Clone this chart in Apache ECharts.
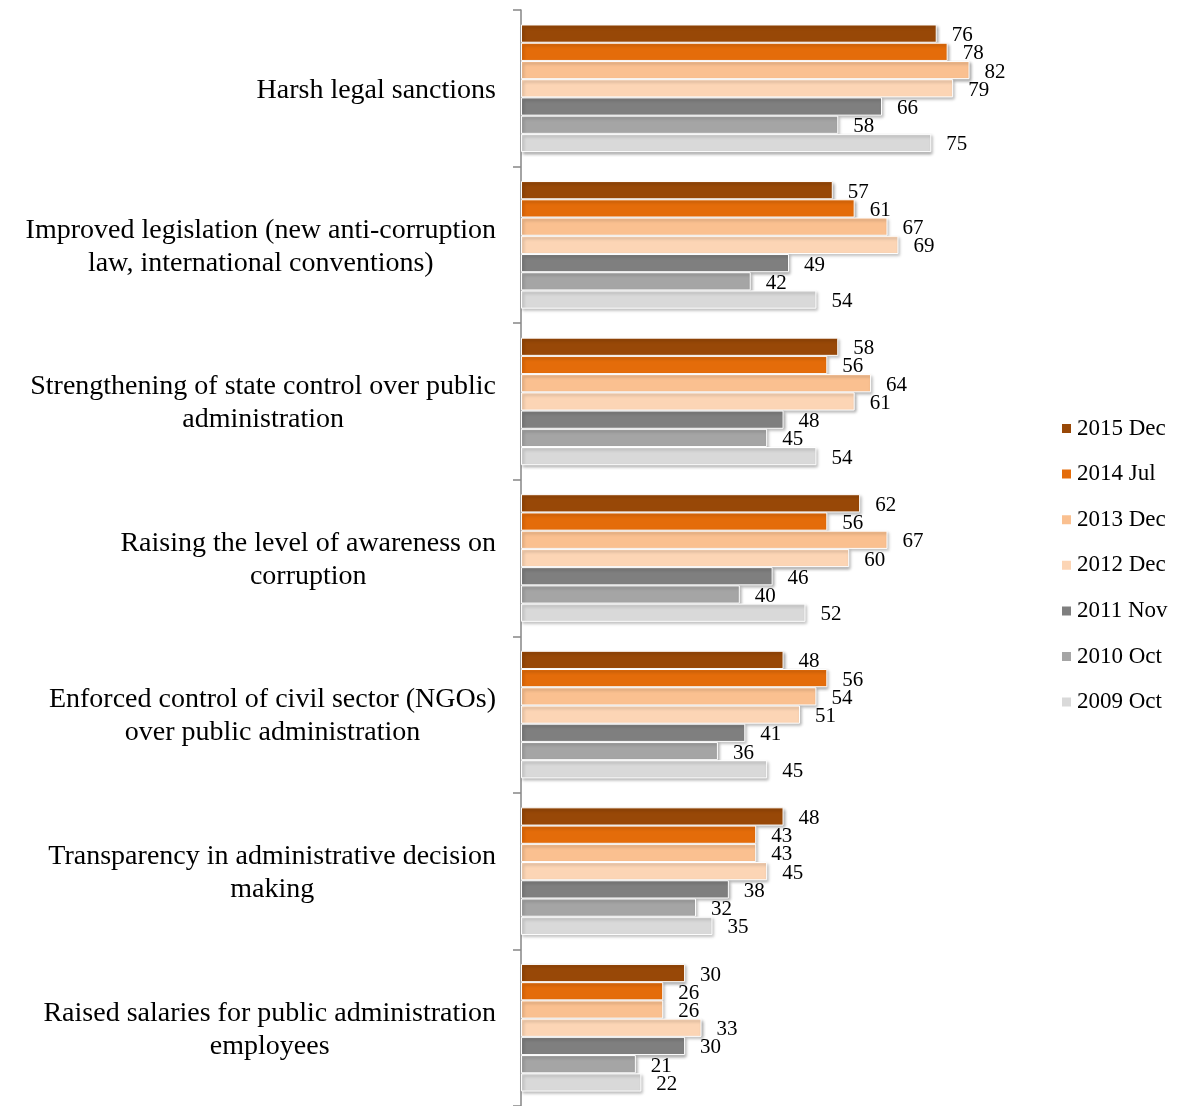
<!DOCTYPE html>
<html>
<head>
<meta charset="utf-8">
<style>
  html, body { margin: 0; padding: 0; background: #ffffff; }
  #chart { width: 1181px; height: 1106px; }
</style>
<script src="https://cdn.jsdelivr.net/npm/echarts@6/dist/echarts.min.js"></script>
</head>
<body>
<div id="chart"></div>
<script>
// Measures against corruption, share of respondents (%) by survey wave
const categories = [
  'Harsh legal sanctions',
  'Improved legislation (new anti-corruption\nlaw, international conventions)',
  'Strengthening of state control over public\nadministration',
  'Raising the level of awareness on\ncorruption',
  'Enforced control of civil sector (NGOs)\nover public administration',
  'Transparency in administrative decision\nmaking',
  'Raised salaries for public administration\nemployees'
];

const seriesNames = ['2015 Dec', '2014 Jul', '2013 Dec', '2012 Dec', '2011 Nov', '2010 Oct', '2009 Oct'];

const dec2015 = [76, 57, 58, 62, 48, 48, 30];
const jul2014 = [78, 61, 56, 56, 56, 43, 26];
const dec2013 = [82, 67, 64, 67, 54, 43, 26];
const dec2012 = [79, 69, 61, 60, 51, 45, 33];
const nov2011 = [66, 49, 48, 46, 41, 38, 30];
const oct2010 = [58, 42, 45, 40, 36, 32, 21];
const oct2009 = [75, 54, 54, 52, 45, 35, 22];

const seriesValues = [dec2015, jul2014, dec2013, dec2012, nov2011, oct2010, oct2009];
const seriesColors = ['#984807', '#E46C0A', '#FAC090', '#FCD5B5', '#7F7F7F', '#A5A5A5', '#D9D9D9'];

const FONT = '"Liberation Serif", "DejaVu Serif", serif';

const chart = echarts.init(document.getElementById('chart'), null, { renderer: 'canvas' });

chart.setOption({
  animation: false,
  backgroundColor: '#ffffff',
  grid: { left: 521, right: 113, top: 10, bottom: 0, containLabel: false },
  legend: {
    orient: 'vertical',
    left: 1055,
    top: 412,
    itemWidth: 11,
    itemHeight: 11,
    itemGap: 22.6,
    icon: 'rect',
    textStyle: { fontFamily: FONT, fontSize: 23, color: '#000', lineHeight: 23, padding: [0, 0, 0, 0] },
    data: seriesNames
  },
  xAxis: {
    type: 'value',
    min: 0,
    max: 100,
    show: false
  },
  yAxis: {
    type: 'category',
    inverse: true,
    data: categories,
    axisLine: { show: true, lineStyle: { color: '#868686', width: 1.5 } },
    axisTick: { show: true, length: 8, lineStyle: { color: '#868686', width: 1.5 } },
    axisLabel: {
      margin: 25,
      align: 'right',
      padding: [4, 0, 0, 0],
      // each line of a category name is centred within its block
      formatter: (v) => v.split('\n').map((line) => '{c|' + line + '}').join('\n'),
      rich: {
        c: {
          fontFamily: FONT,
          fontSize: 28,
          lineHeight: 33,
          color: '#000',
          align: 'center'
        }
      }
    },
    splitLine: { show: false }
  },
  series: seriesNames.map((name, i) => ({
    name: name,
    type: 'bar',
    data: seriesValues[i],
    barGap: '0%',
    barCategoryGap: '18.5%',
    itemStyle: {
      color: seriesColors[i],
      borderColor: '#ffffff',
      borderWidth: 1,
      shadowColor: 'rgba(0,0,0,0.3)',
      shadowBlur: 3,
      shadowOffsetX: 1.5,
      shadowOffsetY: 2
    },
    label: {
      show: true,
      position: 'right',
      distance: 15,
      offset: [0, 2],
      fontFamily: FONT,
      fontSize: 21,
      color: '#000'
    }
  }))
});
</script>
</body>
</html>
